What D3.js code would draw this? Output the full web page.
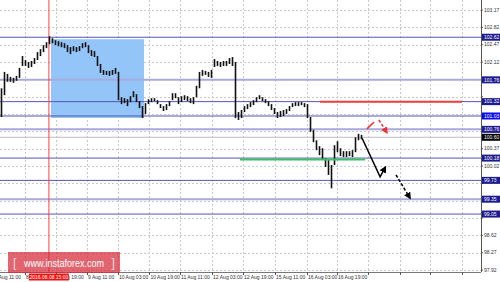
<!DOCTYPE html>
<html><head><meta charset="utf-8">
<script src="https://cdn.jsdelivr.net/npm/d3@7"></script>
<style>body{margin:0;background:#fff}svg{display:block;font-family:"Liberation Sans",Arial,sans-serif}</style>
</head><body><div id="chart"></div>
<script>
// bar highs / lows
const highs = [101.59,101.92,101.88,101.82,101.80,101.84,102.00,102.24,102.16,102.12,
  102.14,102.20,102.32,102.38,102.46,102.52,102.64,102.60,102.56,102.54,
  102.52,102.50,102.46,102.42,102.44,102.42,102.44,102.50,102.52,102.46,
  102.36,102.34,102.24,102.08,101.96,101.94,101.94,101.96,102.00,101.92,
  101.41,101.39,101.37,101.43,101.53,101.47,101.33,101.23,101.29,101.37,
  101.39,101.39,101.35,101.27,101.23,101.27,101.33,101.49,101.49,101.41,
  101.43,101.45,101.43,101.39,101.41,101.64,101.92,101.96,101.94,101.92,
  101.96,102.18,102.14,102.12,102.14,102.14,102.20,102.22,102.12,101.11,
  101.15,101.23,101.27,101.31,101.35,101.41,101.45,101.41,101.37,101.33,
  101.27,101.19,101.11,101.13,101.15,101.17,101.23,101.29,101.31,101.31,
  101.31,101.29,101.27,101.01,100.75,100.54,100.42,100.38,100.18,100.14,
  100.04,100.44,100.52,100.38,100.32,100.32,100.32,100.34,100.60,100.67,100.65];
const lows = [101.01,101.45,101.72,101.72,101.70,101.74,101.80,102.04,102.04,102.00,
  102.02,102.08,102.16,102.24,102.32,102.40,102.48,102.50,102.46,102.44,
  102.42,102.40,102.32,102.28,102.34,102.32,102.34,102.40,102.42,102.30,
  102.24,102.22,102.04,101.90,101.86,101.86,101.84,101.86,101.88,101.35,
  101.27,101.29,101.23,101.31,101.41,101.31,101.19,100.99,101.07,101.27,
  101.31,101.33,101.27,101.19,101.13,101.15,101.23,101.35,101.39,101.27,
  101.31,101.35,101.33,101.29,101.27,101.41,101.59,101.84,101.86,101.82,
  101.80,102.02,102.04,102.02,102.04,102.04,102.08,102.04,100.99,100.95,
  100.99,101.11,101.17,101.21,101.25,101.31,101.37,101.33,101.29,101.23,
  101.15,101.07,100.99,101.01,101.03,101.07,101.13,101.21,101.23,101.23,
  101.25,101.21,100.99,100.71,100.50,100.34,100.24,100.14,100.00,99.84,
  99.57,100.04,100.30,100.22,100.20,100.20,100.22,100.20,100.30,100.54,100.56];

const priceTicks = [103.17,102.82,102.47,102.12,101.77,101.42,101.07,100.72,100.37,100.02,99.67,99.32,98.97,98.62,98.27,97.92];
const timeLabels = ["5 Aug 11:00","8 Aug 03:00","8 Aug 19:00","9 Aug 11:00","10 Aug 03:00","10 Aug 19:00","11 Aug 11:00","12 Aug 03:00","12 Aug 19:00","15 Aug 11:00","16 Aug 03:00","16 Aug 19:00","","","",""];
const timeIdx = [-2.6,7.8,18.2,28.5,38.8,49.3,59.5,70.2,80.5,91.2,101.8,111.8,122.2,132.8,142.8,153.5];

const levelValues = [102.62,101.76,101.32,101.03,100.76,100.18,99.73,99.35,99.05];
const strongLevels = [101.76,100.76,99.35];
const currentPrice = 100.60;
const markerIdx = 15.8, markerLabel = "2016.08.08 15:00";
const zoneIdx = [16.5,47.5], zonePrice = [102.58,100.99];
const resistance = {from:106.2, to:153.5, price:101.32};
const support = {from:79.5, to:121.2, price:100.15};
const redStroke = [[121.8,100.77],[124.2,100.91]];
const redArrow = [[125.8,100.95],[128.5,100.69]];
const blackArrow = [[120.2,100.58],[126.2,99.80],[128.0,100.00]];
const blackDashed = [[131.5,99.84],[136.2,99.37]];

const W = 500, H = 282, plotR = 481, plotB = 272;
const svg = d3.select("#chart").append("svg").attr("width", W).attr("height", H);

const x = d3.scaleLinear().domain([-0.5, 159.83]).range([0, plotR]);
const y = d3.scaleLinear().domain([97.88, 103.372]).range([plotB, 0]);

// grid
svg.append("g").selectAll("line").data(priceTicks).join("line")
  .attr("x1", 0).attr("x2", plotR).attr("y1", d => Math.round(y(d)) + .5).attr("y2", d => Math.round(y(d)) + .5)
  .attr("stroke", "#c9c9c9").attr("stroke-dasharray", "2,2");
svg.append("g").selectAll("line").data(timeIdx.slice(1)).join("line")
  .attr("x1", d => Math.round(x(d)) + .5).attr("x2", d => Math.round(x(d)) + .5).attr("y1", 0).attr("y2", plotB)
  .attr("stroke", "#c9c9c9").attr("stroke-dasharray", "2,2");

// zone
svg.append("rect").attr("x", x(zoneIdx[0])).attr("width", x(zoneIdx[1]) - x(zoneIdx[0]))
  .attr("y", y(zonePrice[0])).attr("height", y(zonePrice[1]) - y(zonePrice[0])).attr("fill", "#93c5f8");

// horizontal levels
svg.append("g").selectAll("line").data(levelValues).join("line")
  .attr("x1", 0).attr("x2", plotR).attr("y1", d => y(d)).attr("y2", d => y(d))
  .attr("stroke", d => strongLevels.includes(d) ? "#a9a9dd" : "#5555b8")
  .attr("stroke-width", d => strongLevels.includes(d) ? 2 : 1);
svg.append("line").attr("x1", 0).attr("x2", plotR).attr("y1", y(currentPrice)).attr("y2", y(currentPrice))
  .attr("stroke", "#bdbdbd");

// marker line
svg.append("line").attr("x1", x(markerIdx)).attr("x2", x(markerIdx)).attr("y1", 0).attr("y2", plotB)
  .attr("stroke", "#ff4040");

// bars
svg.append("g").selectAll("rect").data(highs).join("rect")
  .attr("x", (d, i) => x(i) - 0.8).attr("width", 1.6)
  .attr("y", d => y(d)).attr("height", (d, i) => Math.max(1, y(lows[i]) - y(d)))
  .attr("fill", "#111");

// resistance / support
svg.append("line").attr("x1", x(resistance.from)).attr("x2", x(resistance.to))
  .attr("y1", y(resistance.price)).attr("y2", y(resistance.price)).attr("stroke", "#f03c3c").attr("stroke-width", 2);
svg.append("line").attr("x1", x(support.from)).attr("x2", x(support.to))
  .attr("y1", y(support.price)).attr("y2", y(support.price)).attr("stroke", "#3cc060").attr("stroke-width", 2);

// arrows
const defs = svg.append("defs");
[["ahRed", "#f03030"], ["ahBlack", "#000"]].forEach(([id, c]) => {
  defs.append("marker").attr("id", id).attr("viewBox", "0 0 10 10").attr("refX", 8).attr("refY", 5)
    .attr("markerWidth", 7).attr("markerHeight", 7).attr("markerUnits", "userSpaceOnUse").attr("orient", "auto")
    .append("path").attr("d", "M0,0L10,5L0,10z").attr("fill", c);
});
const line = d3.line().x(d => x(d[0])).y(d => y(d[1]));
svg.append("path").attr("d", line(redStroke)).attr("fill", "none").attr("stroke", "#f03030").attr("stroke-width", 1.5);
svg.append("path").attr("d", line(redArrow)).attr("fill", "none").attr("stroke", "#f03030").attr("stroke-width", 1.5)
  .attr("stroke-dasharray", "3,2").attr("marker-end", "url(#ahRed)");
svg.append("path").attr("d", line(blackArrow)).attr("fill", "none").attr("stroke", "#000").attr("stroke-width", 1.5)
  .attr("marker-end", "url(#ahBlack)");
svg.append("path").attr("d", line(blackDashed)).attr("fill", "none").attr("stroke", "#000").attr("stroke-width", 1.5)
  .attr("stroke-dasharray", "3,2").attr("marker-end", "url(#ahBlack)");

// frame
svg.append("line").attr("x1", plotR + .5).attr("x2", plotR + .5).attr("y1", 0).attr("y2", plotB).attr("stroke", "#555");
svg.append("line").attr("x1", 0).attr("x2", plotR).attr("y1", plotB + .5).attr("y2", plotB + .5).attr("stroke", "#777");

// level price boxes (drawn over the right axis, hiding the tick labels they cover)
const boxes = levelValues.map(v => ({v, c: v === 101.03 ? "#0a0ae6" : "#1c1c8e"}))
  .concat([{v: currentPrice, c: "#000"}]);
const freeTicks = priceTicks.filter(t => boxes.every(b => Math.abs(y(t) - y(b.v)) > 5));

// right axis
const ra = svg.append("g").attr("font-size", 5).attr("fill", "#333");
ra.selectAll("line").data(priceTicks).join("line")
  .attr("x1", plotR).attr("x2", plotR + 2).attr("y1", d => y(d)).attr("y2", d => y(d)).attr("stroke", "#555");
ra.selectAll("text").data(freeTicks).join("text")
  .attr("x", plotR + 3).attr("y", d => y(d) + 1.8).text(d => d.toFixed(2));

const bg = svg.append("g").selectAll("g").data(boxes).join("g")
  .attr("transform", d => `translate(${plotR + 1},${y(d.v)})`);
bg.append("rect").attr("x", 0).attr("y", -3.5).attr("width", 18).attr("height", 7).attr("fill", d => d.c);
bg.append("text").attr("x", 2).attr("y", 1.8).attr("font-size", 5).attr("fill", "#fff").text(d => d.v.toFixed(2));

// bottom axis
const ba = svg.append("g").attr("font-size", 5).attr("fill", "#333");
ba.selectAll("line").data(timeIdx).join("line")
  .attr("x1", d => Math.round(x(d)) + .5).attr("x2", d => Math.round(x(d)) + .5)
  .attr("y1", plotB).attr("y2", plotB + 3).attr("stroke", "#555");
ba.selectAll("text").data(timeLabels).join("text")
  .attr("x", (d, i) => x(timeIdx[i]) + 1).attr("y", 278.5).text(d => d);

// time marker label
const mx = x(markerIdx);
svg.append("rect").attr("x", mx - 20).attr("y", plotB + 1.5).attr("width", 40).attr("height", 7).attr("fill", "#ee1111");
svg.append("text").attr("x", mx).attr("y", 278.5).attr("text-anchor", "middle")
  .attr("font-size", 5).attr("fill", "#fff").text(markerLabel);

// watermark
const wm = svg.append("g");
wm.append("rect").attr("x", 8).attr("y", 252).attr("width", 112).attr("height", 21).attr("fill", "rgba(214,40,55,0.72)");
wm.append("text").attr("x", 13).attr("y", 267).attr("font-size", 12).attr("fill", "rgba(255,255,255,0.8)").text("[");
wm.append("text").attr("x", 24).attr("y", 267).attr("font-size", 11).attr("fill", "#fff")
  .attr("textLength", 80).attr("lengthAdjust", "spacingAndGlyphs").text("www.instaforex.com");
wm.append("text").attr("x", 111.5).attr("y", 267).attr("font-size", 12).attr("fill", "rgba(255,255,255,0.8)").text("]");
</script>
</body></html>
